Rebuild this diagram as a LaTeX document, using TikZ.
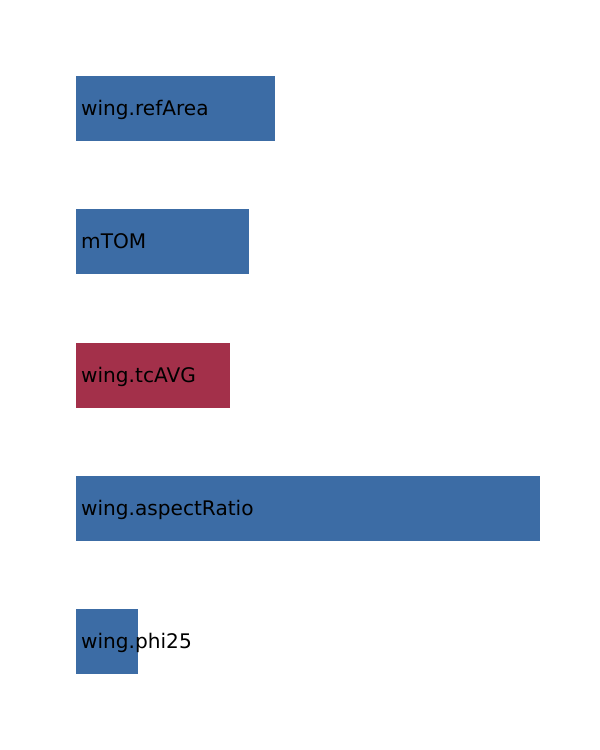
\documentclass[tikz,border=0pt]{standalone}
\usepackage{fontspec}
\setmainfont{DejaVu Sans}
\usetikzlibrary{positioning}
\definecolor{barblue}{RGB}{60,108,165}
\definecolor{barred}{RGB}{163,48,74}
\tikzstyle{bar}=[inner sep=0, minimum height=65pt, anchor=north west]
\tikzstyle{lbl}=[inner sep=0, anchor=base west, text=black,
		font=\fontsize{20.1}{24}\selectfont]

\begin{document}
\begin{tikzpicture}[x=1pt,y=-1pt]
            \useasboundingbox (0,0) rectangle (600,750);
            \foreach \name/\txt/\len/\col [count=\i] in {
                refarea/wing.refArea/199/barblue,
                mtom/mTOM/173/barblue,
                tcavg/wing.tcAVG/154/barred,
                aspect/wing.aspectRatio/464/barblue,
                phi/wing.phi25/62/barblue} {
                \node[bar, fill=\col, minimum width=\len pt] (\name) at (76, {76+(\i-1)*133.25}) {};
                \node[lbl] (\name-lbl) at ([xshift=5pt, yshift=-7pt]\name.west) {\txt};
            }
        \end{tikzpicture}
\end{document}
